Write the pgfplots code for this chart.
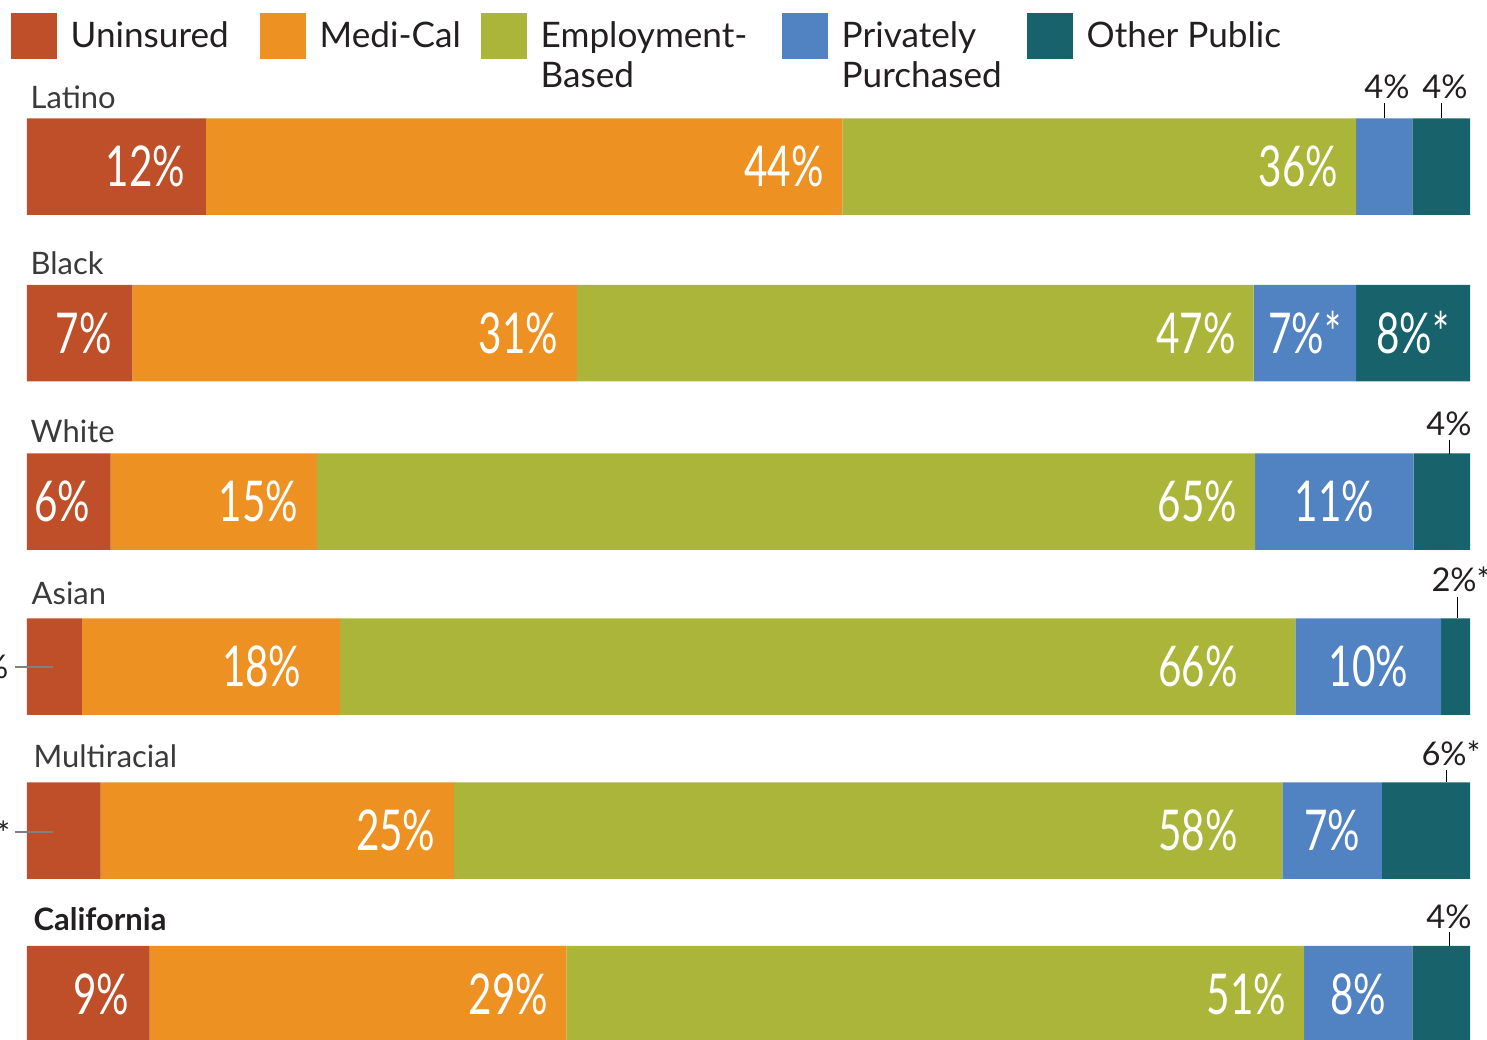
\documentclass[border=0pt]{standalone}
\usepackage{fontspec}
\setmainfont{Lato}
\newfontfamily\condfont[FakeStretch=0.72]{Lato}
\usepackage{pgfplots}
\pgfplotsset{compat=1.18}
\definecolor{cUnins}{HTML}{BE4F28}
\definecolor{cMedi}{HTML}{EE9123}
\definecolor{cEmp}{HTML}{ABB53A}
\definecolor{cPriv}{HTML}{5182C2}
\definecolor{cOther}{HTML}{17626B}
\definecolor{txt}{HTML}{231F20}
\definecolor{cat}{HTML}{3A3A3A}

\begin{document}
\begin{tikzpicture}
% one axis unit in y = one reference pixel (0.1mm); bars run 0..100 %
\begin{axis}[
    at={(0,0)}, anchor=south west, scale only axis,
    width=148.7mm, height=103.9mm,
    hide axis,
    xmin=-1.871, xmax=101.178,
    ymin=0, ymax=1039, y dir=reverse,
    xbar stacked, bar width=9.65mm,
    point meta=explicit symbolic,
    nodes near coords,
    every node near coord/.append style={text=white, inner sep=0pt,
      font=\condfont\fontsize{16}{16}\selectfont},
    % labels sit at the segment centre: push them to its right end
    rightlab/.style={visualization depends on=rawx \as \rawx,
      nodes near coords style={anchor=east,
        shift={(axis direction cs:\rawx/2,0)}, xshift=-#1}},
    centerlab/.style={nodes near coords style={anchor=center}},
]
\addplot[fill=cUnins, draw=none, rightlab=2mm] coordinates {
  (12.4,166.5) [12\%] (7.3,333) [7\%] (5.8,501.5) [6\%]
  (3.8,666.5) [\relax] (5.1,830.5) [\relax] (8.5,994) [9\%]};
\addplot[fill=cMedi, draw=none, rightlab=1.8mm] coordinates {
  (44.1,166.5) [44\%] (30.8,333) [31\%] (14.3,501.5) [15\%]
  (17.9,666.5) [18\%\kern2mm] (24.5,830.5) [25\%] (28.9,994) [29\%]};
\addplot[fill=cEmp, draw=none, rightlab=1.7mm] coordinates {
  (35.6,166.5) [36\%] (46.9,333) [47\%] (65.0,501.5) [65\%]
  (66.2,666.5) [66\%\kern4mm] (57.4,830.5) [58\%\kern2.7mm] (51.1,994) [51\%]};
\addplot[fill=cPriv, draw=none, centerlab] coordinates {
  (3.9,166.5) [\relax] (7.1,333) [7\%*] (11.0,501.5) [11\%]
  (10.1,666.5) [10\%] (6.9,830.5) [7\%] (7.5,994) [8\%]};
\addplot[fill=cOther, draw=none, centerlab] coordinates {
  (4.0,166.5) [\relax] (7.9,333) [8\%*] (3.9,501.5) [\relax]
  (2.0,666.5) [\relax] (6.1,830.5) [\relax] (4.0,994) [\relax]};
\end{axis}

% annotations in reference pixel coordinates (origin top left)
\begin{scope}[x=0.1mm, y=-0.1mm, shift={(0,-1039)}]
  % legend
  \begin{scope}[every node/.style={anchor=base west, inner sep=0pt, text=txt,
      font=\fontsize{10}{12}\selectfont}]
    \fill[cUnins] (11,13) rectangle (57,59);
    \node at (70,48) {Uninsured};
    \fill[cMedi] (260,13) rectangle (306,59);
    \node at (319,48) {Medi-Cal};
    \fill[cEmp] (481,13) rectangle (527,59);
    \node at (540,48) {Employment-};
    \node at (540,88) {Based};
    \fill[cPriv] (782,13) rectangle (828,59);
    \node at (841,48) {Privately};
    \node at (841,88) {Purchased};
    \fill[cOther] (1027,13) rectangle (1073,59);
    \node at (1086,48) {Other Public};
  \end{scope}
  % row labels
  \begin{scope}[every node/.style={anchor=base west, inner sep=0pt, text=cat,
      font=\fontsize{8.8}{10}\selectfont}]
    \node at (30,109) {Latino};
    \node at (30,275) {Black};
    \node at (30,443) {White};
    \node at (31,605) {Asian};
    \node at (33,768) {Multiracial};
    \node[text=txt, font=\fontsize{8.8}{10}\selectfont\bfseries] at (33,930) {California};
  \end{scope}
  % small values outside the bars
  \begin{scope}[every node/.style={anchor=base, inner sep=0pt, text=txt,
      font=\fontsize{9.3}{10}\selectfont}]
    \node at (1387,99) {4\%};  \draw[line width=0.1mm] (1384,103) -- (1384,118);
    \node at (1445,99) {4\%};  \draw[line width=0.1mm] (1441,103) -- (1441,118);
    \node at (1449,436) {4\%}; \draw[line width=0.1mm] (1449,440) -- (1449,454);
    \node at (1461,592) {2\%*}; \draw[line width=0.1mm] (1457,597) -- (1457,618);
    \node at (1451,766) {6\%*}; \draw[line width=0.1mm] (1446,770) -- (1446,782);
    \node at (1449,928) {4\%}; \draw[line width=0.1mm] (1449,932) -- (1449,946);
    \node[anchor=base east] at (9,679) {4\%};
    \node[anchor=base east] at (11,845) {5\%*};
  \end{scope}
  \draw[gray, line width=0.12mm] (15,667) -- (53,667);
  \draw[gray, line width=0.12mm] (15,832) -- (53,832);
\end{scope}
\pgfresetboundingbox
\path[use as bounding box] (0,0) rectangle (148.7mm,103.9mm);
\end{tikzpicture}
\end{document}
